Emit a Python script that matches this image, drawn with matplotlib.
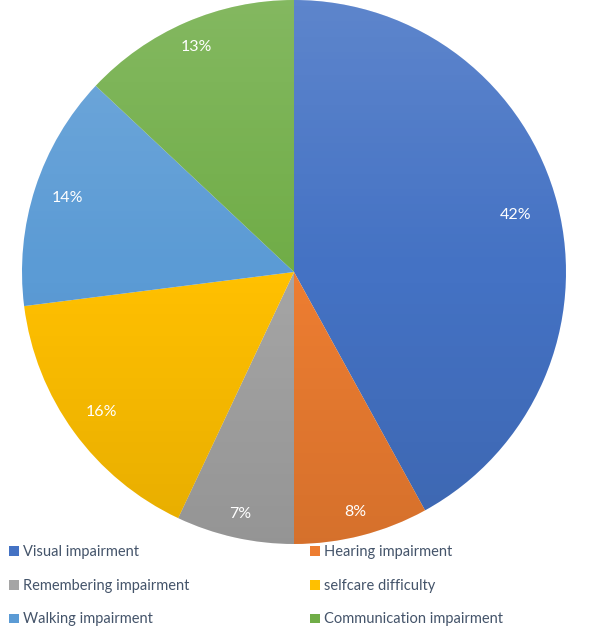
import numpy as np
import matplotlib
matplotlib.use("Agg")
import matplotlib.pyplot as plt
from matplotlib.patches import Patch, Circle

# Data
categories = ["Visual impairment", "Hearing impairment", "Remembering impairment",
              "selfcare difficulty", "Walking impairment", "Communication impairment"]
shares = [42, 8, 7, 16, 14, 13]
colors = ["#4472C4", "#ED7D31", "#A5A5A5", "#FFC000", "#5B9BD5", "#70AD47"]

# label distance from centre, per slice (Excel best fit)
label_radius = [0.84, 0.91, 0.91, 0.875, 0.875, 0.90]

plt.rcParams['font.family'] = ['Lato', 'DejaVu Sans']

fig = plt.figure(figsize=(6.05, 6.38), dpi=100)
ax = fig.add_axes([22 / 605, 1 - 544 / 638, 544 / 605, 544 / 638])

wedges, _ = ax.pie(shares, colors=colors, startangle=90, counterclock=False,
                   radius=1.0, wedgeprops=dict(linewidth=0))

# subtle vertical shading like the Office gradient fill
grad = np.zeros((256, 1, 4))
t = np.linspace(0, 1, 256)
grad[:, 0, :3] = np.where(t[:, None] < 0.5, 1.0, 0.0)
grad[:, 0, 3] = np.where(t < 0.5, 0.14 * (0.5 - t) * 2, 0.10 * (t - 0.5) * 2)
im = ax.imshow(grad, extent=[-1, 1, -1, 1], aspect='auto', origin='upper', zorder=3)
im.set_clip_path(Circle((0, 0), 1.0, transform=ax.transData))

# percentage labels
angle = 90.0
for val, r in zip(shares, label_radius):
    mid = np.deg2rad(angle - val / sum(shares) * 360 / 2)
    ax.text(r * np.cos(mid), r * np.sin(mid), f"{val}%", color="white",
            ha="center", va="center", fontsize=11.5, zorder=5)
    angle -= val / sum(shares) * 360

ax.set_xlim(-1, 1)
ax.set_ylim(-1, 1)
ax.set_aspect('auto')
ax.axis('off')

# legend: two columns, filled row by row
order = [0, 2, 4, 1, 3, 5]
handles = [Patch(facecolor=colors[i], edgecolor='none') for i in order]
labels = [categories[i] for i in order]
leg = fig.legend(handles, labels, ncol=2, loc='upper left',
                 bbox_to_anchor=(-4 / 605, 1 - 532 / 638), frameon=False,
                 fontsize=10.5, handlelength=0.65, handleheight=0.65,
                 handletextpad=0.3, labelspacing=1.35, columnspacing=8.3)
for txt in leg.get_texts():
    txt.set_color("#44546A")

fig.savefig("out.png", dpi=100)
